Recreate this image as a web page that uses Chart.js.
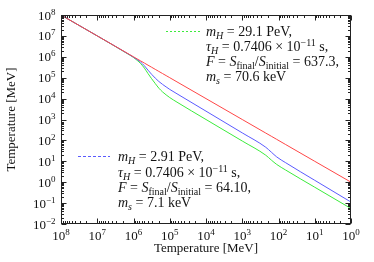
<!DOCTYPE html>
<html><head><meta charset="utf-8">
<script src="https://cdn.jsdelivr.net/npm/chart.js@4"></script>
<style>html,body{margin:0;padding:0;background:#fff}canvas{display:block}</style>
</head><body>
<canvas id="c" width="374" height="262"></canvas>
<script>
// Data
const tempX   = [1e8, 1e7, 1.259e6, 1e6, 7.94e5, 6.31e5, 5.01e5, 3.98e5, 3.16e5, 2.51e5, 2.0e5, 1.58e5, 1.26e5, 1e5, 6.31e4, 1e4, 1e3, 224, 158, 112, 63.1, 10, 1];
const redY    = [1e8, 1e7, 1.259e6, 1e6, 7.94e5, 6.31e5, 5.01e5, 3.98e5, 3.16e5, 2.51e5, 2.0e5, 1.58e5, 1.26e5, 1e5, 6.31e4, 1e4, 1e3, 224, 158, 112, 63.1, 10, 1];
const blueY   = [1e8, 1e7, 1.23e6, 9.55e5, 7.41e5, 5.50e5, 3.72e5, 2.29e5, 1.45e5, 9.55e4, 6.61e4, 4.79e4, 3.63e4, 2.75e4, 1.70e4, 2.51e3, 229, 46.8, 27.5, 16.2, 8.51, 1.23, 0.112];
const greenY  = [1e8, 1e7, 1.20e6, 9.33e5, 6.76e5, 4.68e5, 2.88e5, 1.58e5, 8.91e4, 5.25e4, 3.16e4, 2.09e4, 1.51e4, 1.12e4, 6.76e3, 1.0e3, 93.3, 19.5, 11.5, 7.08, 3.80, 0.575, 0.0550];
const xTickExps = [8, 7, 6, 5, 4, 3, 2, 1, 0];
const yTickExps = [8, 7, 6, 5, 4, 3, 2, 1, 0, -1, -2];
const xTitle = 'Temperature [MeV]';
const yTitle = 'Temperature [MeV]';
const legendGreen = [
  [['m','i',0],['H','i',-1],[' = 29.1 PeV,','n',0]],
  [['τ','i',0],['H','i',-1],[' = 0.7406 × 10','n',0],['−11','n',1],[' s,','n',0]],
  [['F','i',0],[' = ','n',0],['S','i',0],['final','n',-1],['/','n',0],['S','i',0],['initial','n',-1],[' = 637.3,','n',0]],
  [['m','i',0],['s','i',-1],[' = 70.6 keV','n',0]]
];
const legendBlue = [
  [['m','i',0],['H','i',-1],[' = 2.91 PeV,','n',0]],
  [['τ','i',0],['H','i',-1],[' = 0.7406 × 10','n',0],['−11','n',1],[' s,','n',0]],
  [['F','i',0],[' = ','n',0],['S','i',0],['final','n',-1],['/','n',0],['S','i',0],['initial','n',-1],[' = 64.10,','n',0]],
  [['m','i',0],['s','i',-1],[' = 7.1 keV','n',0]]
];

const FONT = '"Liberation Serif", "DejaVu Serif", serif';
const RED = 'rgb(255,70,70)', BLUE = 'rgb(90,90,255)', GREEN = 'rgb(60,235,60)';

function toPts(ys){ return tempX.map((x,i)=>({x:x, y:ys[i]})); }

function segFont(s, big){
  const size = s[2] === 0 ? big : Math.round(big*0.7);
  return (s[1]==='i' ? 'italic ' : '') + size + 'px ' + FONT;
}
function richWidth(ctx, segs, big){
  let w = 0;
  for (const s of segs){ ctx.font = segFont(s, big); w += ctx.measureText(s[0]).width; }
  return w;
}
function drawRich(ctx, segs, x, y, align, big){
  let w = richWidth(ctx, segs, big);
  let cx = align==='right' ? x - w : align==='center' ? x - w/2 : x;
  ctx.textAlign = 'left'; ctx.textBaseline = 'alphabetic';
  for (const s of segs){
    ctx.font = segFont(s, big);
    const dy = s[2]===1 ? -5 : s[2]===-1 ? 3 : 0;
    ctx.fillText(s[0], cx, y + dy);
    cx += ctx.measureText(s[0]).width;
  }
}
function powSegs(e){
  return [['10','n',0],[e<0 ? '−'+(-e) : String(e),'n',1]];
}

const decor = {
  id: 'decor',
  afterDatasetsDraw(chart){
    const ctx = chart.ctx, a = chart.chartArea;
    const xs = chart.scales.x, ys = chart.scales.y;
    ctx.save();
    ctx.strokeStyle = '#222'; ctx.lineWidth = 1;
    const L = Math.round(a.left)+0.5, R = Math.round(a.right)-0.5, T = Math.round(a.top)+0.5, B = Math.round(a.bottom)-0.5;
    ctx.strokeRect(L, T, R-L, B-T);
    ctx.beginPath();
    for (let e = 0; e <= 8; e++){
      for (let k = 1; k <= 9; k++){
        const v = k*Math.pow(10,e);
        if (v > 1e8) break;
        const px = Math.round(xs.getPixelForValue(v))+0.5;
        const len = k===1 ? 5 : 2.5;
        ctx.moveTo(px, B); ctx.lineTo(px, B-len);
        ctx.moveTo(px, T); ctx.lineTo(px, T+len);
      }
    }
    for (let e = -2; e <= 8; e++){
      for (let k = 1; k <= 9; k++){
        const v = k*Math.pow(10,e);
        if (v > 1e8) break;
        const py = Math.round(ys.getPixelForValue(v))+0.5;
        const len = k===1 ? 5 : 2.5;
        ctx.moveTo(L, py); ctx.lineTo(L+len, py);
        ctx.moveTo(R, py); ctx.lineTo(R-len, py);
      }
    }
    ctx.stroke();
    ctx.fillStyle = '#111';
    for (const e of xTickExps){
      drawRich(ctx, powSegs(e), xs.getPixelForValue(Math.pow(10,e)), 239.5, 'center', 13);
    }
    for (const e of yTickExps){
      drawRich(ctx, powSegs(e), 55.5, ys.getPixelForValue(Math.pow(10,e)) + 4.5, 'right', 13);
    }
    ctx.font = '13px ' + FONT; ctx.textAlign = 'center'; ctx.textBaseline = 'middle';
    ctx.fillText(xTitle, (a.left+a.right)/2, 248.5);
    ctx.save(); ctx.translate(12, (a.top+a.bottom)/2); ctx.rotate(-Math.PI/2);
    ctx.fillText(yTitle, 0, 0); ctx.restore();
    ctx.fillStyle = 'rgb(20,20,20)';
    ctx.lineWidth = 1;
    ctx.setLineDash([2,2]); ctx.strokeStyle = GREEN;
    ctx.beginPath(); ctx.moveTo(166, 31.5); ctx.lineTo(200, 31.5); ctx.stroke();
    ctx.setLineDash([3,2]); ctx.strokeStyle = BLUE;
    ctx.beginPath(); ctx.moveTo(78, 156.5); ctx.lineTo(110, 156.5); ctx.stroke();
    ctx.setLineDash([]);
    const gy = [31.7, 46.7, 61.7, 76.7];
    legendGreen.forEach((l,i)=>drawRich(ctx, l, 206, gy[i]+4.5, 'left', 14));
    const by = [156.7, 172.0, 187.3, 202.6];
    legendBlue.forEach((l,i)=>drawRich(ctx, l, 118, by[i]+4.5, 'left', 14));
    ctx.restore();
  }
};

new Chart(document.getElementById('c'), {
  type: 'line',
  data: {
    datasets: [
      { label: 'reference', data: toPts(redY), borderColor: RED, borderWidth: 1, pointRadius: 0, tension: 0 },
      { label: 'm_H = 2.91 PeV', data: toPts(blueY), borderColor: BLUE, borderWidth: 1, pointRadius: 0, cubicInterpolationMode: 'monotone' },
      { label: 'm_H = 29.1 PeV', data: toPts(greenY), borderColor: GREEN, borderWidth: 1, pointRadius: 0, cubicInterpolationMode: 'monotone' }
    ]
  },
  options: {
    responsive: false, animation: false, devicePixelRatio: 1,
    layout: { padding: { left: 61, right: 23, top: 15, bottom: 38 } },
    plugins: { legend: { display: false }, tooltip: { enabled: false } },
    scales: {
      x: { type: 'logarithmic', reverse: true, min: 1, max: 1e8, display: false },
      y: { type: 'logarithmic', min: 0.01, max: 1e8, display: false }
    }
  },
  plugins: [decor]
});
</script>
</body></html>
